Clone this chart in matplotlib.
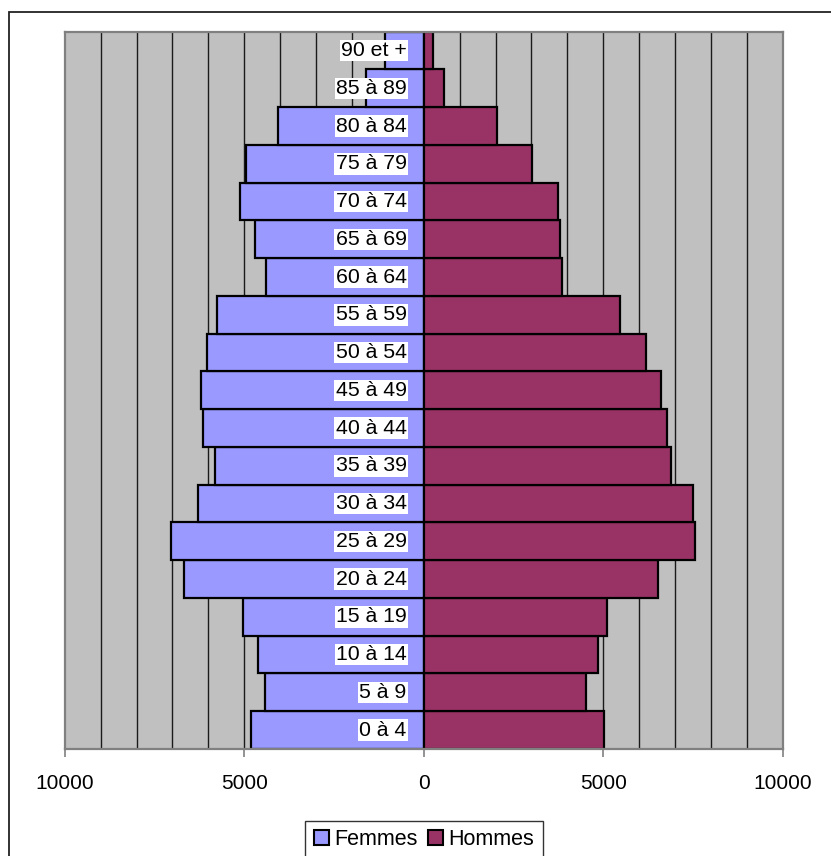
import matplotlib
matplotlib.use("Agg")
import matplotlib.pyplot as plt
from matplotlib.patches import Rectangle, Patch
from matplotlib.ticker import FixedLocator, FuncFormatter

categories = ["0 à 4", "5 à 9", "10 à 14", "15 à 19", "20 à 24", "25 à 29",
              "30 à 34", "35 à 39", "40 à 44", "45 à 49", "50 à 54", "55 à 59",
              "60 à 64", "65 à 69", "70 à 74", "75 à 79", "80 à 84", "85 à 89",
              "90 et +"]
femmes = [4800, 4410, 4610, 5040, 6680, 7040, 6300, 5810, 6160, 6210,
          6040, 5770, 4400, 4690, 5120, 4950, 4060, 1600, 1080]
hommes = [5030, 4530, 4855, 5115, 6520, 7565, 7495, 6895, 6775, 6610,
          6190, 5475, 3860, 3790, 3735, 3015, 2040, 575, 265]
major_ticks = [-10000, -5000, 0, 5000, 10000]
grid_ticks = [v for v in range(-9000, 10000, 1000) if v != 0]

plt.rcParams['font.family'] = ['Liberation Sans', 'DejaVu Sans']

W, H = 831, 856
fig = plt.figure(figsize=(W / 100, H / 100), dpi=100)
ax = fig.add_axes([64.7 / W, 1 - 749 / H, (782.7 - 64.7) / W, (749 - 31.7) / H])
ax.set_facecolor('#C0C0C0')

for g in grid_ticks:
    ax.axvline(g, color='#1a1a1a', lw=1.0, zorder=1)

y = list(range(len(categories)))
c_f, c_h = '#9999FF', '#993366'
ax.barh(y, [-v for v in femmes], height=1.0, color=c_f, edgecolor='black',
        linewidth=1.6, zorder=2)
ax.barh(y, hommes, height=1.0, color=c_h, edgecolor='black',
        linewidth=1.6, zorder=2)

for yi, lab in zip(y, categories):
    ax.annotate(lab, xy=(0, yi), xytext=(-17, 0), textcoords='offset pixels',
                ha='right', va='center', fontsize=15.3, zorder=4,
                bbox=dict(boxstyle='square,pad=0.06', fc='white', ec='none'))

ax.set_xlim(-10000, 10000)
ax.set_ylim(-0.5, len(categories) - 0.5)
ax.set_yticks([])
ax.xaxis.set_major_locator(FixedLocator(major_ticks))
ax.xaxis.set_major_formatter(FuncFormatter(lambda v, p: f"{abs(int(v))}"))
ax.tick_params(axis='x', direction='out', length=6, width=1.2, color='#808080',
               labelsize=15, pad=12)
for s in ax.spines.values():
    s.set_color('#808080')
    s.set_linewidth(1.6)

handles = [Patch(facecolor=c_f, edgecolor='black', linewidth=1.5, label='Femmes'),
           Patch(facecolor=c_h, edgecolor='black', linewidth=1.5, label='Hommes')]
leg = fig.legend(handles=handles, loc='upper center',
                 bbox_to_anchor=(424 / W, 1 - 820.5 / H), ncol=2, fontsize=15.5,
                 frameon=True, fancybox=False, handlelength=0.7,
                 handleheight=0.7, handletextpad=0.25, columnspacing=0.5,
                 borderpad=0.4, borderaxespad=0)
leg.get_frame().set_edgecolor('black')
leg.get_frame().set_linewidth(1.0)

fig.add_artist(Rectangle((8.5 / W, -0.1), 2, 1 - 12 / H + 0.1,
                         transform=fig.transFigure, fill=False,
                         ec='#222222', lw=1.3, clip_on=False))

fig.savefig('out.png', dpi=100, facecolor='white')
